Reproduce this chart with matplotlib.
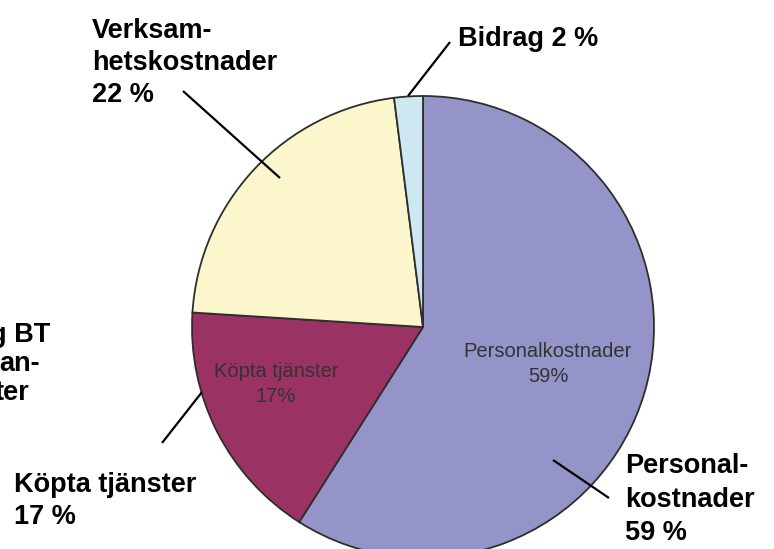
import matplotlib
matplotlib.use("Agg")
import matplotlib.pyplot as plt

plt.rcParams['font.family'] = ['Liberation Sans', 'DejaVu Sans']

# slice data (clockwise from the top)
categories = ["Personalkostnader", "Köpta tjänster", "Verksamhetskostnader", "Bidrag"]
shares = [59, 17, 22, 2]
colors = ["#9494c9", "#9b3264", "#fbf6cb", "#cde8f1"]

# labels written inside the slices
inner_labels = ["Personalkostnader\n59%", "Köpta tjänster\n17%"]
inner_pos = [(548, 364), (276, 384)]

# bold labels outside the pie: lines, left x, baselines
outer_lines = [
    (["Verksam-", "hetskostnader", "22 %"], 92, [38, 70, 102]),
    (["Bidrag 2 %"], 458, [46]),
    (["Personal-", "kostnader", "59 %"], 625, [473, 507, 540]),
    (["Köpta tjänster", "17 %"], 14, [492, 524]),
]
# label cut off by the left edge (right aligned pieces)
cut_lines = [("g BT", 50, 342), ("an-", 40, 371), ("ter", 29, 400)]

# leader lines (image pixels)
leaders = [
    ((183, 91), (280, 178)),
    ((450, 42), (408, 96)),
    ((553, 460), (609, 498)),
    ((202, 392), (162, 443)),
]

fig = plt.figure(figsize=(7.74, 5.49), dpi=100)
ax = fig.add_axes([0, 0, 1, 1])

# y axis is inverted below, so counterclock=True draws clockwise on screen
ax.pie(shares, colors=colors, center=(423, 327), radius=231,
       startangle=270, counterclock=True,
       wedgeprops=dict(edgecolor="#2e2e2e", linewidth=1.3))

ax.set_xlim(0, 774)
ax.set_ylim(549, 0)
ax.set_aspect('equal')
ax.axis('off')

for txt, (x, y) in zip(inner_labels, inner_pos):
    ax.text(x, y, txt, ha='center', va='center', fontsize=14.5,
            color="#333333", linespacing=1.45)

for lines, x, ys in outer_lines:
    for line, y in zip(lines, ys):
        ax.text(x, y, line, ha='left', va='baseline', fontsize=19.5,
                fontweight='bold', color='black')

for line, x, y in cut_lines:
    ax.text(x, y, line, ha='right', va='baseline', fontsize=19.5,
            fontweight='bold', color='black')

for (x0, y0), (x1, y1) in leaders:
    ax.plot([x0, x1], [y0, y1], color='black', linewidth=1.6,
            solid_capstyle='butt')

fig.savefig("out.png", dpi=100)
